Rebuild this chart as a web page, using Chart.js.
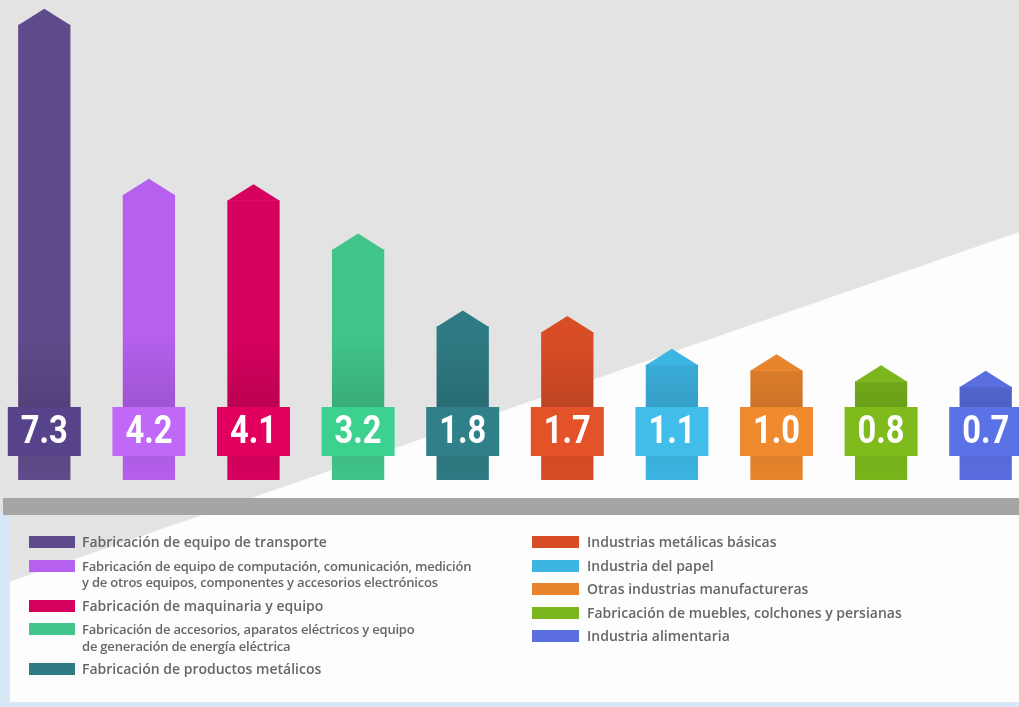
<!DOCTYPE html>
<html>
<head>
<meta charset="utf-8">
<script src="https://cdn.jsdelivr.net/npm/chart.js@4.4.1/dist/chart.umd.min.js"></script>
<style>
    html, body { margin: 0; padding: 0; width: 1019px; height: 707px; overflow: hidden; background: #fdfdfd; }
    #wrap { position: absolute; left: -8px; top: 0; width: 1046px; height: 707px; }
    #legend { position: absolute; left: 0; top: 0; width: 1019px; height: 707px; font-family: "Open Sans", sans-serif; color: #666666; }
    .col { position: absolute; top: 534px; }
    .col.left { left: 29px; }
    .col.right { left: 532px; }
    .item { display: flex; align-items: flex-start; margin-bottom: 7px; }
    .sw { width: 46px; height: 12px; margin-top: 2px; margin-right: 7px; flex: none; }
    .right .sw { width: 47px; margin-right: 8px; }
    .txt { font-size: 14px; font-weight: 600; line-height: 16.5px; white-space: nowrap; }
    .txt.small { font-size: 13px; letter-spacing: -0.2px; }
</style>
</head>
<body>
<div id="wrap"><canvas id="myChart" width="1046" height="707"></canvas></div>
<div id="legend"><div class="col left"></div><div class="col right"></div></div>
<script>
// sectors in chart order (multi-line labels as arrays)
var categories = [
    'Fabricación de equipo de transporte',
    ['Fabricación de equipo de computación, comunicación, medición', 'y de otros equipos, componentes y accesorios electrónicos'],
    'Fabricación de maquinaria y equipo',
    ['Fabricación de accesorios, aparatos eléctricos y equipo', 'de generación de energía eléctrica'],
    'Fabricación de productos metálicos',
    'Industrias metálicas básicas',
    'Industria del papel',
    'Otras industrias manufactureras',
    'Fabricación de muebles, colchones y persianas',
    'Industria alimentaria'
];
var values = [7.3, 4.2, 4.1, 3.2, 1.8, 1.7, 1.1, 1.0, 0.8, 0.7];
var barColors = ['#5e4b8b', '#b560ee', '#d6005e', '#41c58b', '#2f7b83', '#d94d26', '#3cb5e2', '#e8842c', '#7ab61c', '#5a6ee0'];
var boxColors = ['#574389', '#c068f8', '#e2005f', '#3dd190', '#2f8088', '#e4522a', '#41bde9', '#ef8a2f', '#80bb1e', '#5b72e6'];

var pageOffset = 8; // canvas starts 8px left of the page
var tipHeight = 16;

function shade(hex, f) {
    var n = parseInt(hex.slice(1), 16);
    var r = Math.round(((n >> 16) & 255) * f), g = Math.round(((n >> 8) & 255) * f), b = Math.round((n & 255) * f);
    return 'rgb(' + r + ',' + g + ',' + b + ')';
}

// grey/white diagonal background, grey band and light blue frame
var backdrop = {
    id: 'backdrop',
    beforeDraw: function (chart) {
        var ctx = chart.ctx, w = chart.width, h = chart.height;
        var diag = function (x) { return 585 - 0.3464 * (x - pageOffset); };
        ctx.save();
        ctx.fillStyle = '#fdfdfd';
        ctx.fillRect(0, 0, w, h);
        ctx.fillStyle = '#e3e3e3';
        ctx.beginPath();
        ctx.moveTo(0, 0);
        ctx.lineTo(w, 0);
        ctx.lineTo(w, diag(w));
        ctx.lineTo(0, diag(0));
        ctx.closePath();
        ctx.fill();
        ctx.fillStyle = '#d7e7f5';
        ctx.fillRect(0, 512, pageOffset + 10, h - 512);
        ctx.fillRect(0, 702, w, 5);
        ctx.fillStyle = '#a5a5a5';
        ctx.fillRect(pageOffset + 3, 498, w, 17);
        ctx.restore();
    }
};

// arrow tips on top of the bars and the value boxes
var tipsAndBoxes = {
    id: 'tipsAndBoxes',
    afterDatasetsDraw: function (chart) {
        var ctx = chart.ctx;
        var meta = chart.getDatasetMeta(0);
        ctx.save();
        meta.data.forEach(function (bar, i) {
            var half = bar.width / 2;
            ctx.fillStyle = barColors[i];
            ctx.beginPath();
            ctx.moveTo(bar.x - half, bar.y + 0.5);
            ctx.lineTo(bar.x, bar.y - tipHeight);
            ctx.lineTo(bar.x + half, bar.y + 0.5);
            ctx.closePath();
            ctx.fill();

            ctx.fillStyle = boxColors[i];
            ctx.fillRect(bar.x - 36.5, 407, 73, 49);

            // condensed look: squeeze the bold digits horizontally
            ctx.save();
            ctx.translate(bar.x, 443);
            ctx.scale(0.86, 1);
            ctx.fillStyle = '#ffffff';
            ctx.font = 'bold 38px Roboto, "Liberation Sans", sans-serif';
            ctx.textAlign = 'center';
            ctx.textBaseline = 'alphabetic';
            ctx.fillText(values[i].toFixed(1), 0, 0);
            ctx.restore();
        });
        ctx.restore();
    }
};

var ctx = document.getElementById('myChart');
var myChart = new Chart(ctx, {
    type: 'bar',
    data: {
        labels: categories,
        datasets: [{
            data: values,
            base: -1,
            backgroundColor: function (c) {
                var area = c.chart.chartArea;
                var col = barColors[c.dataIndex];
                if (!area) return col;
                var g = c.chart.ctx.createLinearGradient(0, area.top, 0, area.bottom);
                g.addColorStop(0, col);
                g.addColorStop(0.7, col);
                g.addColorStop(0.845, shade(col, 0.88));
                g.addColorStop(0.95, shade(col, 0.96));
                g.addColorStop(1, col);
                return g;
            },
            borderWidth: 0,
            barPercentage: 0.5,
            categoryPercentage: 1.0
        }]
    },
    options: {
        responsive: false,
        animation: false,
        layout: {
            padding: { top: 0, left: 0, right: 0, bottom: 227 }
        },
        plugins: {
            legend: { display: false },
            tooltip: { enabled: false }
        },
        scales: {
            x: { display: false, grid: { display: false } },
            y: { display: false, min: -1, max: 7.75, grid: { display: false } }
        }
    },
    plugins: [backdrop, tipsAndBoxes]
});

// two-column legend built from the same arrays
var cols = document.querySelectorAll('#legend .col');
categories.forEach(function (label, i) {
    var lines = Array.isArray(label) ? label : [label];
    var item = document.createElement('div');
    item.className = 'item';
    var sw = document.createElement('div');
    sw.className = 'sw';
    sw.style.background = barColors[i];
    var txt = document.createElement('div');
    txt.className = lines.length > 1 ? 'txt small' : 'txt';
    txt.innerHTML = lines.join('<br>');
    item.appendChild(sw);
    item.appendChild(txt);
    cols[i < 5 ? 0 : 1].appendChild(item);
});
</script>
</body>
</html>
